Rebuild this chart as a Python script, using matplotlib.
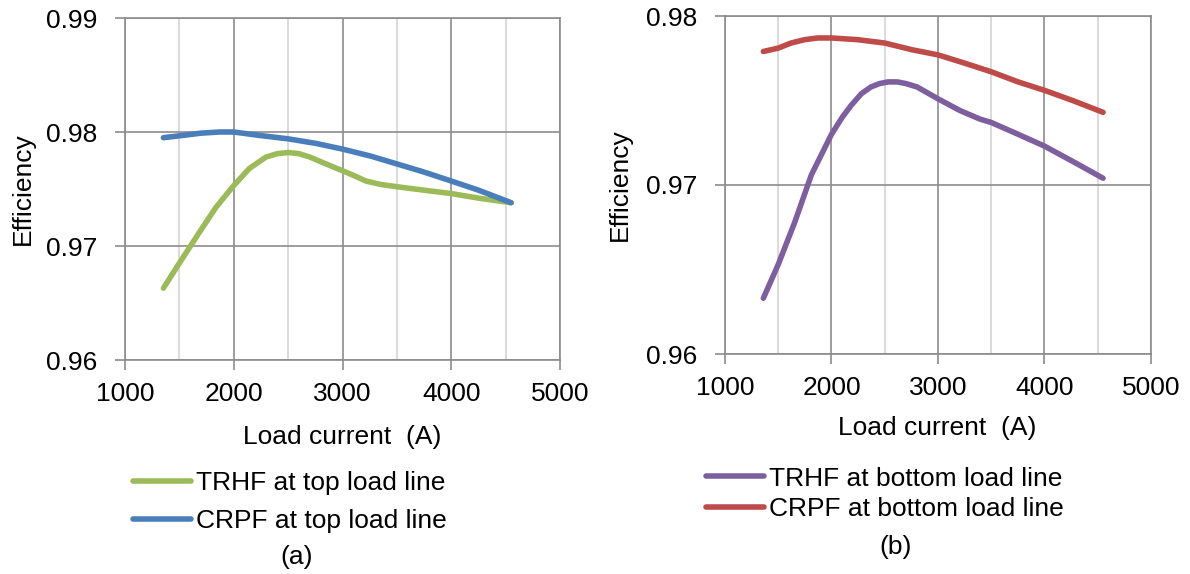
import matplotlib
matplotlib.use('Agg')
import matplotlib.pyplot as plt
from matplotlib.ticker import MultipleLocator

plt.rcParams['font.family'] = ['Liberation Sans', 'DejaVu Sans']

# values (load current in A, efficiency)
top_trhf_x = [1353, 1500, 1684, 1837, 2000, 2143, 2296, 2400, 2500, 2600, 2700, 2848, 3000, 3100, 3215, 3350, 3500, 3745, 4000, 4250, 4550]
top_trhf_y = [0.9663, 0.9685, 0.9712, 0.9734, 0.9753, 0.9768, 0.9778, 0.9781, 0.9782, 0.9781, 0.9778, 0.9772, 0.9766, 0.9762, 0.9757, 0.9754, 0.9752, 0.9749, 0.9746, 0.9742, 0.9738]
top_crpf_x = [1353, 1531, 1700, 1868, 2000, 2235, 2500, 2756, 3000, 3254, 3500, 3745, 4000, 4250, 4550]
top_crpf_y = [0.9795, 0.9797, 0.9799, 0.9800, 0.9800, 0.9797, 0.9794, 0.9790, 0.9785, 0.9779, 0.9772, 0.9765, 0.9757, 0.9749, 0.9738]

bot_trhf_x = [1360, 1500, 1655, 1811, 2000, 2100, 2183, 2280, 2370, 2450, 2530, 2618, 2700, 2804, 3000, 3208, 3394, 3500, 3752, 4000, 4264, 4550]
bot_trhf_y = [0.9633, 0.9653, 0.9678, 0.9706, 0.9730, 0.9740, 0.9747, 0.9754, 0.9758, 0.9760, 0.9761, 0.9761, 0.9760, 0.9758, 0.9751, 0.9744, 0.9739, 0.9737, 0.9730, 0.9723, 0.9714, 0.9704]
bot_crpf_x = [1360, 1500, 1620, 1748, 1870, 2000, 2245, 2500, 2758, 3000, 3255, 3500, 3752, 4000, 4264, 4550]
bot_crpf_y = [0.9779, 0.9781, 0.9784, 0.9786, 0.9787, 0.9787, 0.9786, 0.9784, 0.9780, 0.9777, 0.9772, 0.9767, 0.9761, 0.9756, 0.9750, 0.9743]

W, H = 1190, 574
fig = plt.figure(figsize=(W / 100, H / 100), dpi=100)

def box(l, t, r, b):
    return [l / W, 1 - b / H, (r - l) / W, (b - t) / H]

def fpos(x, y):
    return (x / W, 1 - y / H)

major_c = '#8c8c8c'
minor_c = '#d4d4d4'
fs = 19

def style(ax, ylo, yhi):
    ax.set_xlim(1000, 5000)
    ax.set_ylim(ylo, yhi)
    ax.xaxis.set_major_locator(MultipleLocator(1000))
    ax.xaxis.set_minor_locator(MultipleLocator(500))
    ax.yaxis.set_major_locator(MultipleLocator(0.01))
    ax.yaxis.set_major_formatter(matplotlib.ticker.FormatStrFormatter('%.2f'))
    ax.grid(True, which='major', color=major_c, lw=1.2)
    ax.grid(True, which='minor', axis='x', color=minor_c, lw=1.2)
    ax.set_axisbelow(True)
    for s in ax.spines.values():
        s.set_color(major_c)
        s.set_linewidth(1.2)
    ax.tick_params(which='major', length=7, width=1.2, color=major_c, labelsize=fs)
    ax.tick_params(axis='y', pad=13)
    ax.tick_params(axis='x', pad=9)
    ax.tick_params(which='minor', length=0)

# (a)
ax1 = fig.add_axes(box(125, 18, 560, 360))
style(ax1, 0.96, 0.99)
l1, = ax1.plot(top_trhf_x, top_trhf_y, color='#9bbb59', lw=4, solid_capstyle='round', label='TRHF at top load line')
l2, = ax1.plot(top_crpf_x, top_crpf_y, color='#4a7ebb', lw=4, solid_capstyle='round', label='CRPF at top load line')
fig.text(*fpos(23, 189), 'Efficiency', rotation=90, ha='center', va='center', fontsize=fs)
fig.text(*fpos(342, 437), 'Load current  (A)', ha='center', va='center', fontsize=fs)
fig.legend(handles=[l1, l2], loc='center left', bbox_to_anchor=fpos(133, 502), frameon=False,
           fontsize=fs, handlelength=2.2, handletextpad=0.2, labelspacing=0.55, borderpad=0, borderaxespad=0)
fig.text(*fpos(297, 557), '(a)', ha='center', va='center', fontsize=fs)

# (b)
ax2 = fig.add_axes(box(725, 16, 1151, 354))
style(ax2, 0.96, 0.98)
l3, = ax2.plot(bot_trhf_x, bot_trhf_y, color='#7d5fa0', lw=4, solid_capstyle='round', label='TRHF at bottom load line')
l4, = ax2.plot(bot_crpf_x, bot_crpf_y, color='#be4b48', lw=4, solid_capstyle='round', label='CRPF at bottom load line')
fig.text(*fpos(620, 185), 'Efficiency', rotation=90, ha='center', va='center', fontsize=fs)
fig.text(*fpos(937, 428), 'Load current  (A)', ha='center', va='center', fontsize=fs)
fig.legend(handles=[l3, l4], loc='center left', bbox_to_anchor=fpos(706, 494), frameon=False,
           fontsize=fs, handlelength=2.2, handletextpad=0.2, labelspacing=0.25, borderpad=0, borderaxespad=0)
fig.text(*fpos(896, 547), '(b)', ha='center', va='center', fontsize=fs)

fig.savefig('out.png', dpi=100)
